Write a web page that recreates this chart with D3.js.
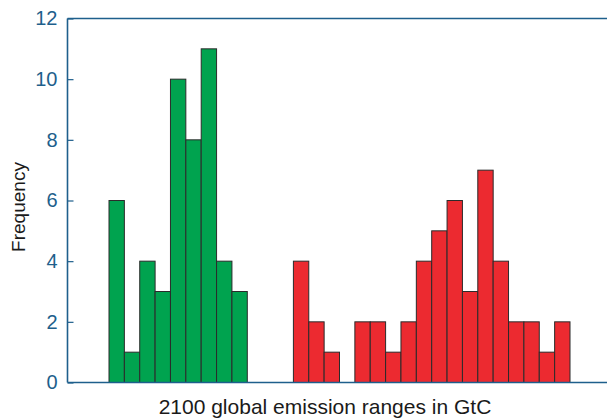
<!DOCTYPE html>
<html>
<head>
<meta charset="utf-8">
<script src="https://cdn.jsdelivr.net/npm/d3@7"></script>
<style>
  html, body { margin: 0; padding: 0; background: #fff; }
  svg { display: block; }
</style>
</head>
<body>
<svg id="chart" width="607" height="419"></svg>
<script>
// Histogram bins (index along the emission axis) and their counts
const greenBins = [0, 1, 2, 3, 4, 5, 6, 7, 8];
const greenFreq = [6, 1, 4, 3, 10, 8, 11, 4, 3];
const redBins = [12, 13, 14, 15, 16, 17, 18, 19, 20, 21, 22, 23, 24, 25, 26, 27, 28, 29];
const redFreq = [4, 2, 1, 0, 2, 2, 1, 2, 4, 5, 6, 3, 7, 4, 2, 2, 1, 2];
const yTicks = [0, 2, 4, 6, 8, 10, 12];
const binCount = 30;

const svg = d3.select("#chart");
const plot = { left: 67.5, right: 607, top: 18.5, bottom: 382.5 };

const x = d3.scaleLinear().domain([0, binCount]).range([109, 570]);
const y = d3.scaleLinear().domain([0, 12]).range([plot.bottom, plot.top]);

const axisColor = "#1e5f8c";
const font = "Liberation Sans, Arial, Helvetica, sans-serif";

function drawBars(bins, freq, fill) {
  svg.append("g")
    .selectAll("rect")
    .data(bins.map((b, i) => ({ b, v: freq[i] })).filter(d => d.v > 0))
    .join("rect")
    .attr("x", d => x(d.b))
    .attr("width", d => x(d.b + 1) - x(d.b))
    .attr("y", d => y(d.v))
    .attr("height", d => y(0) - y(d.v))
    .attr("fill", fill)
    .attr("stroke", "#2b2b2b")
    .attr("stroke-width", 1);
}

drawBars(greenBins, greenFreq, "#00a34f");
drawBars(redBins, redFreq, "#ec2a30");

// Left axis with inward ticks
const yAxis = d3.axisLeft(y).tickValues(yTicks).tickSize(-6).tickPadding(16);
const gy = svg.append("g").attr("transform", `translate(${plot.left},0)`).call(yAxis);
gy.select(".domain").remove();
gy.selectAll(".tick line").attr("stroke", axisColor).attr("stroke-width", 1.2);
gy.selectAll(".tick text")
  .attr("fill", axisColor)
  .attr("font-family", font)
  .attr("font-size", 20)
  .attr("x", -10);

// Frame lines: left, top, bottom
const frame = svg.append("g").attr("stroke", axisColor).attr("stroke-width", 1.6).attr("fill", "none");
frame.append("line").attr("x1", plot.left).attr("x2", plot.left).attr("y1", plot.top).attr("y2", plot.bottom);
frame.append("line").attr("x1", plot.left).attr("x2", plot.right).attr("y1", plot.top).attr("y2", plot.top);
frame.append("line").attr("x1", plot.left).attr("x2", plot.right).attr("y1", plot.bottom).attr("y2", plot.bottom);

// Axis titles
svg.append("text")
  .attr("x", 325)
  .attr("y", 414)
  .attr("text-anchor", "middle")
  .attr("font-family", font)
  .attr("font-size", 21)
  .attr("fill", "#1a1a1a")
  .text("2100 global emission ranges in GtC");

svg.append("text")
  .attr("transform", "translate(25,207) rotate(-90)")
  .attr("text-anchor", "middle")
  .attr("font-family", font)
  .attr("font-size", 19)
  .attr("fill", "#1a1a1a")
  .text("Frequency");
</script>
</body>
</html>
